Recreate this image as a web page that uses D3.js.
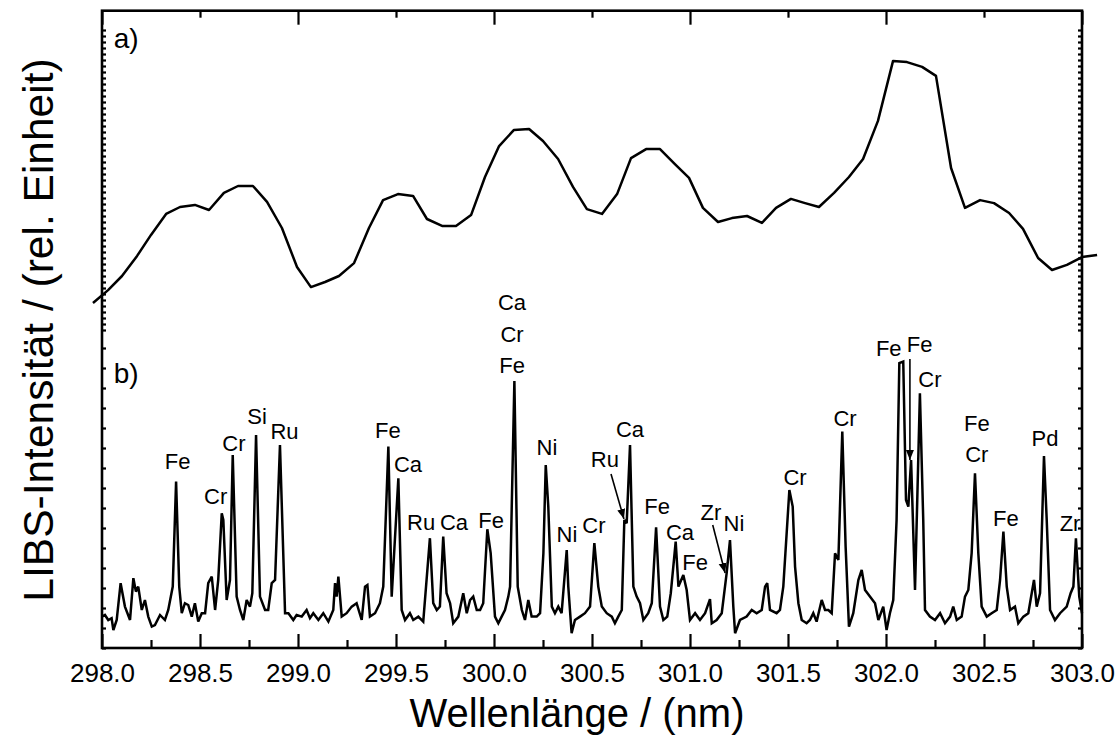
<!DOCTYPE html>
<html>
<head>
<meta charset="utf-8">
<script src="https://cdn.jsdelivr.net/npm/d3@7"></script>
<style>
  body { margin: 0; background: #fff; }
  svg { display: block; }
  text { font-family: "Liberation Sans", Arial, Helvetica, sans-serif; fill: #000; }
</style>
</head>
<body>
<svg id="chart" width="1120" height="747"></svg>
<script>
// ---- Panel a): smoothed spectrum (wavelength in nm, relative intensity) ----
const waveA = [297.954, 298.031, 298.102, 298.179, 298.250, 298.327, 298.398, 298.474, 298.546, 298.622,
  298.694, 298.770, 298.842, 298.918, 298.995, 299.066, 299.138, 299.209, 299.286, 299.362,
  299.434, 299.510, 299.587, 299.658, 299.735, 299.806, 299.883, 299.954, 300.026, 300.102,
  300.179, 300.250, 300.327, 300.403, 300.474, 300.551, 300.628, 300.699, 300.776, 300.847,
  300.923, 300.995, 301.066, 301.143, 301.214, 301.291, 301.367, 301.439, 301.515, 301.587,
  301.658, 301.735, 301.811, 301.883, 301.959, 302.036, 302.107, 302.184, 302.255, 302.332,
  302.403, 302.480, 302.551, 302.628, 302.699, 302.776, 302.847, 302.923, 303.000, 303.077];
const intA = [9.0, 13.3, 18.0, 24.7, 31.7, 38.7, 41.0, 41.7, 40.0, 45.7,
  48.0, 48.0, 42.7, 34.0, 21.0, 14.3, 16.0, 18.0, 22.3, 34.0,
  43.3, 45.3, 44.7, 37.0, 34.7, 34.7, 38.3, 51.0, 61.3, 66.7,
  67.0, 63.0, 57.0, 47.7, 40.3, 38.7, 45.3, 57.3, 60.3, 60.3,
  55.3, 50.7, 40.7, 36.0, 37.3, 38.0, 35.7, 40.7, 43.7, 42.3,
  41.0, 45.7, 51.0, 57.0, 69.7, 89.7, 89.3, 87.7, 84.7, 54.0,
  40.7, 43.3, 42.3, 39.0, 33.7, 24.0, 20.0, 21.7, 24.3, 25.0];

// ---- Panel b): LIBS spectrum (wavelength in nm, counts) ----
const waveB = [298.000, 298.015, 298.032, 298.049, 298.058, 298.075, 298.095, 298.117, 298.143, 298.160,
  298.173, 298.185, 298.203, 298.219, 298.236, 298.254, 298.270, 298.296, 298.321, 298.338,
  298.361, 298.378, 298.394, 298.407, 298.423, 298.440, 298.458, 298.474, 298.491, 298.509,
  298.526, 298.542, 298.560, 298.577, 298.593, 298.611, 298.619, 298.636, 298.653, 298.667,
  298.687, 298.704, 298.721, 298.738, 298.755, 298.767, 298.786, 298.806, 298.832, 298.848,
  298.866, 298.883, 298.908, 298.934, 298.951, 298.976, 298.993, 299.019, 299.044, 299.061,
  299.078, 299.104, 299.129, 299.155, 299.180, 299.189, 299.197, 299.206, 299.223, 299.248,
  299.274, 299.299, 299.325, 299.342, 299.354, 299.367, 299.393, 299.418, 299.435, 299.461,
  299.478, 299.512, 299.529, 299.546, 299.571, 299.588, 299.614, 299.639, 299.673, 299.690,
  299.708, 299.724, 299.741, 299.758, 299.776, 299.792, 299.818, 299.843, 299.861, 299.878,
  299.894, 299.912, 299.929, 299.945, 299.966, 299.983, 300.005, 300.022, 300.039, 300.056,
  300.073, 300.082, 300.104, 300.121, 300.142, 300.158, 300.175, 300.192, 300.218, 300.235,
  300.252, 300.264, 300.277, 300.295, 300.311, 300.328, 300.345, 300.371, 300.379, 300.396,
  300.413, 300.439, 300.464, 300.490, 300.512, 300.532, 300.550, 300.575, 300.601, 300.617,
  300.634, 300.652, 300.665, 300.677, 300.694, 300.711, 300.728, 300.745, 300.762, 300.787,
  300.805, 300.827, 300.847, 300.864, 300.884, 300.902, 300.927, 300.941, 300.966, 300.983,
  301.000, 301.026, 301.051, 301.077, 301.102, 301.111, 301.136, 301.162, 301.187, 301.204,
  301.221, 301.230, 301.255, 301.289, 301.315, 301.340, 301.366, 301.383, 301.394, 301.408,
  301.442, 301.459, 301.476, 301.507, 301.524, 301.536, 301.553, 301.570, 301.595, 301.612,
  301.629, 301.646, 301.672, 301.689, 301.706, 301.723, 301.740, 301.757, 301.777, 301.794,
  301.811, 301.833, 301.859, 301.876, 301.893, 301.918, 301.944, 301.961, 301.986, 302.003,
  302.020, 302.037, 302.054, 302.068, 302.088, 302.102, 302.114, 302.128, 302.148, 302.173,
  302.190, 302.199, 302.224, 302.250, 302.276, 302.301, 302.327, 302.343, 302.361, 302.386,
  302.403, 302.420, 302.437, 302.454, 302.471, 302.488, 302.514, 302.539, 302.565, 302.582,
  302.599, 302.616, 302.633, 302.658, 302.675, 302.701, 302.726, 302.755, 302.769, 302.786,
  302.806, 302.820, 302.837, 302.862, 302.888, 302.922, 302.942, 302.956, 302.969, 302.986,
  303.000];
const intB = [157, 165, 140, 149, 90, 140, 324, 207, 140, 349,
  282, 307, 190, 240, 157, 107, 115, 165, 140, 190,
  307, 832, 307, 174, 224, 215, 157, 224, 132, 174,
  174, 324, 357, 190, 340, 674, 640, 240, 340, 965,
  257, 190, 140, 240, 207, 274, 1065, 257, 190, 190,
  324, 340, 1015, 174, 174, 140, 165, 157, 190, 149,
  174, 140, 174, 132, 190, 324, 257, 357, 157, 174,
  207, 224, 140, 307, 315, 157, 174, 224, 307, 1007,
  257, 849, 190, 140, 174, 140, 157, 132, 549, 224,
  190, 207, 557, 274, 224, 124, 157, 274, 174, 240,
  257, 190, 190, 224, 594, 474, 157, 124, 157, 190,
  257, 307, 1335, 307, 190, 140, 240, 157, 157, 174,
  474, 915, 707, 207, 174, 207, 174, 490, 307, 74,
  140, 157, 174, 207, 524, 307, 207, 174, 157, 124,
  157, 190, 640, 624, 1015, 307, 257, 224, 140, 174,
  224, 604, 207, 140, 157, 274, 532, 307, 365, 290,
  140, 174, 140, 174, 244, 124, 140, 174, 374, 540,
  207, 74, 140, 157, 190, 174, 190, 307, 324, 190,
  174, 190, 307, 790, 707, 407, 224, 140, 124, 140,
  174, 132, 240, 190, 190, 174, 474, 440, 1082, 507,
  107, 174, 340, 390, 290, 257, 224, 140, 207, 90,
  174, 240, 640, 1424, 1432, 740, 707, 940, 290, 1274,
  640, 190, 157, 140, 174, 124, 157, 207, 140, 157,
  257, 290, 474, 874, 474, 207, 157, 174, 190, 340,
  582, 307, 190, 207, 124, 157, 174, 340, 207, 274,
  960, 640, 190, 140, 174, 207, 274, 307, 549, 257,
  174];

// ---- Emission line labels (text, wavelength of text centre, baseline level in counts) ----
const labelText = ["Fe", "Cr", "Cr", "Si", "Ru", "Fe", "Ca", "Ru", "Ca", "Fe",
  "Ca", "Cr", "Fe", "Ni", "Ni", "Cr", "Ru", "Ca", "Fe", "Ca",
  "Fe", "Zr", "Ni", "Cr", "Cr", "Fe", "Fe", "Cr", "Fe", "Cr",
  "Fe", "Pd", "Zr"];
const labelWave = [298.386, 298.580, 298.673, 298.791, 298.931, 299.459, 299.561, 299.628, 299.796, 299.985,
  300.092, 300.092, 300.092, 300.270, 300.372, 300.510, 300.566, 300.694, 300.832, 300.949,
  301.026, 301.107, 301.224, 301.536, 301.791, 302.014, 302.172, 302.224, 302.464, 302.463,
  302.612, 302.811, 302.939];
const labelLevel = [895, 720, 985, 1120, 1045, 1050, 880, 590, 590, 600,
  1690, 1530, 1375, 965, 532, 575, 905, 1055, 670, 540,
  390, 640, 587, 815, 1110, 1462, 1480, 1307, 1085, 930,
  610, 1012, 587];

// ---- Pointer arrows (start and end in wavelength / counts) ----
const arrowWave0 = [300.597, 301.116, 302.122];
const arrowLevel0 = [870, 615, 1445];
const arrowWave1 = [300.663, 301.179, 302.122];
const arrowLevel1 = [645, 375, 940];

// ---- Axis ticks ----
const xMajorTicks = [298.0, 298.5, 299.0, 299.5, 300.0, 300.5, 301.0, 301.5, 302.0, 302.5, 303.0];
const xTickLabels = ["298.0", "298.5", "299.0", "299.5", "300.0", "300.5", "301.0", "301.5", "302.0", "302.5", "303.0"];
const xMinorTicks = [298.25, 298.75, 299.25, 299.75, 300.25, 300.75, 301.25, 301.75, 302.25, 302.75];
const xTopMajor = [298, 299, 300, 301, 302, 303];
const xTopMinor = [298.5, 299.5, 300.5, 301.5, 302.5];
const yTicksB = d3.range(0, 1600, 100);   // counts
const yTicksA = d3.range(0, 101, 2);      // relative units

const svg = d3.select("#chart");
const L = 102, R = 1082, T = 10.7, B = 648;

const x = d3.scaleLinear().domain([298, 303]).range([L, R]);
const yA = d3.scaleLinear().domain([0, 100]).range([330, 30]);
const yB = d3.scaleLinear().domain([0, 1500]).range([B, 348]);

// arrowhead
svg.append("defs").append("marker")
  .attr("id", "head").attr("viewBox", "0 0 10 10")
  .attr("refX", 10).attr("refY", 5)
  .attr("markerWidth", 10).attr("markerHeight", 10)
  .attr("markerUnits", "userSpaceOnUse")
  .attr("orient", "auto")
  .append("path").attr("d", "M0,1 L10,5 L0,9 Z").attr("fill", "#000");

// spectra
const lineA = d3.line().x((d, i) => x(waveA[i])).y((d, i) => yA(intA[i]));
svg.append("path").datum(intA).attr("d", lineA)
  .attr("fill", "none").attr("stroke", "#000").attr("stroke-width", 2.5)
  .attr("stroke-linejoin", "round");

const lineB = d3.line().x((d, i) => x(waveB[i])).y((d, i) => yB(intB[i]));
svg.append("path").datum(intB).attr("d", lineB)
  .attr("fill", "none").attr("stroke", "#000").attr("stroke-width", 2.5)
  .attr("stroke-linejoin", "miter").attr("stroke-miterlimit", 3);

// axes
function styleAxis(g) {
  g.select(".domain").remove();
  g.selectAll(".tick line").attr("stroke", "#000").attr("stroke-width", 2.2);
}
svg.append("g").attr("transform", `translate(0,${B})`)
  .call(d3.axisBottom(x).tickValues(xMajorTicks).tickSize(-14).tickSizeOuter(0)
    .tickPadding(16).tickFormat((d, i) => xTickLabels[i]))
  .call(styleAxis)
  .call(g => g.selectAll(".tick text").attr("font-size", 26).attr("font-family", null));
svg.append("g").attr("transform", `translate(0,${B})`)
  .call(d3.axisBottom(x).tickValues(xMinorTicks).tickSize(-8).tickFormat(""))
  .call(styleAxis);
svg.append("g").attr("transform", `translate(0,${T})`)
  .call(d3.axisTop(x).tickValues(xTopMajor).tickSize(-14).tickFormat(""))
  .call(styleAxis);
svg.append("g").attr("transform", `translate(0,${T})`)
  .call(d3.axisTop(x).tickValues(xTopMinor).tickSize(-7).tickFormat(""))
  .call(styleAxis);
[L, R].forEach((px, k) => {
  const mk = k === 0 ? d3.axisLeft : d3.axisRight;
  svg.append("g").attr("transform", `translate(${px},0)`)
    .call(mk(yB).tickValues(yTicksB.filter(v => yB(v) > 335)).tickSize(-4).tickFormat(""))
    .call(styleAxis);
  svg.append("g").attr("transform", `translate(${px},0)`)
    .call(mk(yA).tickValues(yTicksA.filter(v => yA(v) <= 335 && yA(v) > T + 3)).tickSize(-4).tickFormat(""))
    .call(styleAxis);
});

// frame
svg.append("rect").attr("x", L).attr("y", T).attr("width", R - L).attr("height", B - T)
  .attr("fill", "none").attr("stroke", "#000").attr("stroke-width", 2.6);

// panel captions
svg.append("text").attr("x", x(298.06)).attr("y", yA(94)).attr("font-size", 28).text("a)");
svg.append("text").attr("x", x(298.06)).attr("y", yB(1325)).attr("font-size", 28).text("b)");

// line labels
svg.append("g").selectAll("text").data(labelText).join("text")
  .attr("x", (d, i) => x(labelWave[i]))
  .attr("y", (d, i) => yB(labelLevel[i]))
  .attr("text-anchor", "middle").attr("font-size", 22)
  .text(d => d);

// arrows
svg.append("g").selectAll("line").data(arrowWave0).join("line")
  .attr("x1", (d, i) => x(arrowWave0[i])).attr("y1", (d, i) => yB(arrowLevel0[i]))
  .attr("x2", (d, i) => x(arrowWave1[i])).attr("y2", (d, i) => yB(arrowLevel1[i]))
  .attr("stroke", "#000").attr("stroke-width", 1.6)
  .attr("marker-end", "url(#head)");

// axis titles
svg.append("text").attr("x", 577).attr("y", 727).attr("text-anchor", "middle")
  .attr("font-size", 40).text("Wellenlänge / (nm)");
svg.append("text").attr("transform", "translate(53,330) rotate(-90)")
  .attr("text-anchor", "middle").attr("font-size", 42.5)
  .text("LIBS-Intensität / (rel. Einheit)");
</script>
</body>
</html>
